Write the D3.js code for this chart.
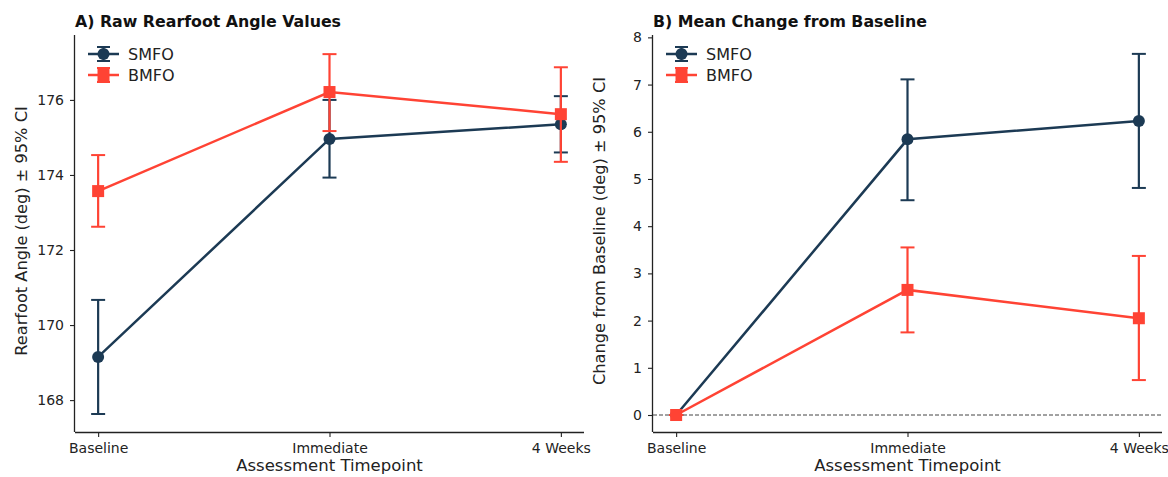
<!DOCTYPE html>
<html>
<head>
<meta charset="utf-8">
<script src="https://cdn.jsdelivr.net/npm/d3@7"></script>
<style>
  body { margin: 0; background: #fff; }
  svg { font-family: "DejaVu Sans", sans-serif; }
</style>
</head>
<body>
<div id="chart"></div>
<script>
// timepoints and series values
const timepoints = ["Baseline", "Immediate", "4 Weeks"];

const rawSmfoMean = [169.15, 174.96, 175.35];
const rawSmfoLow  = [167.63, 173.93, 174.60];
const rawSmfoHigh = [170.67, 176.00, 176.10];
const rawBmfoMean = [173.57, 176.21, 175.62];
const rawBmfoLow  = [172.62, 175.17, 174.35];
const rawBmfoHigh = [174.53, 177.22, 176.87];

const chgSmfoMean = [0, 5.84, 6.23];
const chgSmfoLow  = [0, 4.55, 4.81];
const chgSmfoHigh = [0, 7.11, 7.65];
const chgBmfoMean = [0, 2.65, 2.05];
const chgBmfoLow  = [0, 1.75, 0.74];
const chgBmfoHigh = [0, 3.55, 3.37];

const rawTicks = [168, 170, 172, 174, 176];
const chgTicks = [0, 1, 2, 3, 4, 5, 6, 7, 8];

const SMFO_COLOR = "#1c3a54";
const BMFO_COLOR = "#ff4334";

const width = 1168, height = 477;
const svg = d3.select("#chart").append("svg")
    .attr("width", width)
    .attr("height", height);

function rows(mean, low, high) {
    return timepoints.map((t, i) => ({ t: t, i: i, m: mean[i], lo: low[i], hi: high[i] }));
}

function styleTicks(a) {
    a.attr("font-family", "DejaVu Sans, sans-serif").attr("font-size", 14);
    a.selectAll(".tick text").attr("fill", "#222");
    a.selectAll(".tick line").attr("stroke", "#222").attr("stroke-width", 1.1);
}

function drawPanel(opt) {
    const g = svg.append("g");
    const x = d3.scaleLinear().domain([-0.1, 2.1]).range([opt.left, opt.left + 509]);
    const y = d3.scaleLinear().domain(opt.yDomain).range([432, 35]);

    // axes
    g.append("g")
        .attr("transform", `translate(0,432)`)
        .call(d3.axisBottom(x).tickValues([0, 1, 2]).tickFormat(i => timepoints[i]).tickSize(5).tickPadding(6))
        .call(styleTicks)
        .call(a => a.select(".domain").attr("d", `M${opt.left},0.5H${opt.left + 509}`).attr("stroke", "#222").attr("stroke-width", 1.3));
    g.append("g")
        .attr("transform", `translate(${opt.left},0)`)
        .call(d3.axisLeft(y).tickValues(opt.ticks).tickSize(5).tickPadding(6))
        .call(styleTicks)
        .call(a => a.select(".domain").attr("d", "M-0.5,35V432").attr("stroke", "#222").attr("stroke-width", 1.3));

    if (opt.zeroLine) {
        g.append("line")
            .attr("x1", opt.left).attr("x2", opt.left + 509)
            .attr("y1", y(0)).attr("y2", y(0))
            .attr("stroke", "#444").attr("stroke-width", 1)
            .attr("stroke-dasharray", "4,2");
    }

    const series = [
        { name: "SMFO", color: SMFO_COLOR, shape: "circle", data: opt.smfo },
        { name: "BMFO", color: BMFO_COLOR, shape: "square", data: opt.bmfo }
    ];

    const line = d3.line().x(d => x(d.i)).y(d => y(d.m));

    series.forEach(s => {
        const sg = g.append("g");
        // error bars
        s.data.forEach(d => {
            sg.append("line")
                .attr("x1", x(d.i)).attr("x2", x(d.i))
                .attr("y1", y(d.lo)).attr("y2", y(d.hi))
                .attr("stroke", s.color).attr("stroke-width", 2.2);
            [d.lo, d.hi].forEach(v => {
                sg.append("line")
                    .attr("x1", x(d.i) - 7).attr("x2", x(d.i) + 7)
                    .attr("y1", y(v)).attr("y2", y(v))
                    .attr("stroke", s.color).attr("stroke-width", 2);
            });
        });
        sg.append("path")
            .datum(s.data)
            .attr("d", line)
            .attr("fill", "none")
            .attr("stroke", s.color)
            .attr("stroke-width", 2.5);
        s.data.forEach(d => {
            if (s.shape === "circle") {
                sg.append("circle").attr("cx", x(d.i)).attr("cy", y(d.m)).attr("r", 6).attr("fill", s.color);
            } else {
                sg.append("rect").attr("x", x(d.i) - 6).attr("y", y(d.m) - 6)
                    .attr("width", 12).attr("height", 12).attr("fill", s.color);
            }
        });
    });

    // legend
    series.forEach((s, k) => {
        const ly = 54 + k * 21;
        const lx = opt.left + 13;
        const lg = g.append("g");
        lg.append("line").attr("x1", lx).attr("x2", lx + 31).attr("y1", ly).attr("y2", ly)
            .attr("stroke", s.color).attr("stroke-width", 2.5);
        lg.append("line").attr("x1", lx + 15.5).attr("x2", lx + 15.5).attr("y1", ly - 7).attr("y2", ly + 7)
            .attr("stroke", s.color).attr("stroke-width", 2);
        [ly - 7, ly + 7].forEach(v => {
            lg.append("line").attr("x1", lx + 9).attr("x2", lx + 22).attr("y1", v).attr("y2", v)
                .attr("stroke", s.color).attr("stroke-width", 2);
        });
        if (s.shape === "circle") {
            lg.append("circle").attr("cx", lx + 15.5).attr("cy", ly).attr("r", 6).attr("fill", s.color);
        } else {
            lg.append("rect").attr("x", lx + 9.5).attr("y", ly - 6).attr("width", 12).attr("height", 12).attr("fill", s.color);
        }
        lg.append("text").attr("x", lx + 40).attr("y", ly + 6)
            .attr("font-size", 16).attr("fill", "#222").text(s.name);
    });

    // title and labels
    g.append("text")
        .attr("x", opt.left).attr("y", 27)
        .attr("font-size", 15.8).attr("font-weight", "bold").attr("fill", "#111")
        .text(opt.title);
    g.append("text")
        .attr("x", opt.left + 254.5).attr("y", 471)
        .attr("text-anchor", "middle").attr("font-size", 16.5).attr("fill", "#222")
        .text("Assessment Timepoint");
    g.append("text")
        .attr("transform", `translate(${opt.left - 48},231) rotate(-90)`)
        .attr("text-anchor", "middle").attr("font-size", 16.2).attr("fill", "#222")
        .text(opt.yLabel);
}

drawPanel({
    left: 75,
    yDomain: [167.15, 177.73],
    ticks: rawTicks,
    title: "A) Raw Rearfoot Angle Values",
    yLabel: "Rearfoot Angle (deg) \u00b1 95% CI",
    smfo: rows(rawSmfoMean, rawSmfoLow, rawSmfoHigh),
    bmfo: rows(rawBmfoMean, rawBmfoLow, rawBmfoHigh)
});

drawPanel({
    left: 653,
    yDomain: [-0.36, 8.05],
    ticks: chgTicks,
    zeroLine: true,
    title: "B) Mean Change from Baseline",
    yLabel: "Change from Baseline (deg) \u00b1 95% CI",
    smfo: rows(chgSmfoMean, chgSmfoLow, chgSmfoHigh),
    bmfo: rows(chgBmfoMean, chgBmfoLow, chgBmfoHigh)
});
</script>
</body>
</html>
